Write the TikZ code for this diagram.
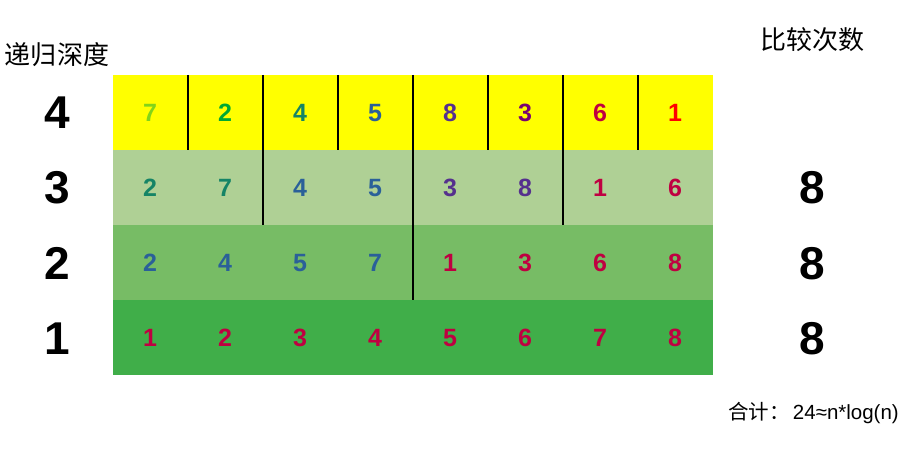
\documentclass[tikz,border=0pt]{standalone}
\usepackage{fontspec}
\setmainfont{Liberation Sans}
\newfontfamily\cjk{Noto Sans CJK SC}
\usetikzlibrary{positioning}

\definecolor{rowfour}{HTML}{FFFF00}
\definecolor{rowthree}{HTML}{AFD095}
\definecolor{rowtwo}{HTML}{77BC65}
\definecolor{rowone}{HTML}{40AE49}
\definecolor{numlime}{HTML}{81D41A}
\definecolor{numgreen}{HTML}{00A933}
\definecolor{numteal}{HTML}{158466}
\definecolor{numblue}{HTML}{2A6099}
\definecolor{numindigo}{HTML}{55308D}
\definecolor{numpurple}{HTML}{780373}
\definecolor{nummagenta}{HTML}{BF0041}
\definecolor{numred}{HTML}{FF0000}

\begin{document}
\begin{tikzpicture}[x=1pt,y=-1pt,
	cell/.style={anchor=base,inner sep=0pt,font=\fontsize{25}{30}\selectfont\bfseries},
	depth/.style={anchor=base,inner sep=0pt,font=\fontsize{46}{50}\selectfont\bfseries},
	title/.style={font=\fontsize{26}{30}\selectfont\cjk},
	split/.style={line width=1.8pt}]
	\useasboundingbox (0,0) rectangle (917,454);
	% rows and depth labels
	\foreach \r/\c/\y in {4/rowfour/75,3/rowthree/150,2/rowtwo/225,1/rowone/300}{
		\fill[\c] (113,\y) rectangle (713,\y+75);
		\node[depth] (d\r) at (57,\y+54) {\r};
	}
	\foreach [count=\i] \v/\c in {7/numlime,2/numgreen,4/numteal,5/numblue,8/numindigo,3/numpurple,6/nummagenta,1/numred}
		\node[cell] (a\i) at (75*\i+75,121.5) {\textcolor{\c}{\v}};
	\foreach [count=\i] \v/\c in {2/numteal,7/numteal,4/numblue,5/numblue,3/numindigo,8/numindigo,1/nummagenta,6/nummagenta}
		\node[cell] (b\i) at (75*\i+75,196.5) {\textcolor{\c}{\v}};
	\foreach [count=\i] \v/\c in {2/numblue,4/numblue,5/numblue,7/numblue,1/nummagenta,3/nummagenta,6/nummagenta,8/nummagenta}
		\node[cell] (c\i) at (75*\i+75,271.5) {\textcolor{\c}{\v}};
	\foreach [count=\i] \v in {1,...,8}
		\node[cell,text=nummagenta] (e\i) at (75*\i+75,346.5) {\v};
	% splits
	\foreach \x in {188,338,488,638} \draw[split] (\x,75) -- (\x,150);
	\foreach \x in {263,563} \draw[split] (\x,75) -- (\x,225);
	\draw[split] (413,75) -- (413,300);
	% comparisons
	\foreach \r/\y in {3/204,2/279,1/354}
		\node[depth] (n\r) at (812,\y) {8};
	\node[title] (depthtitle) at (57,55) {递归深度};
	\node[title] (cmptitle) at (812,40) {比较次数};
	\node[font=\fontsize{20.5}{24}\selectfont, anchor=east, inner sep=0pt] (total) at (899,413) {{\cjk 合计：}\kern3pt 24≈n*log(n)};
\end{tikzpicture}
\end{document}
